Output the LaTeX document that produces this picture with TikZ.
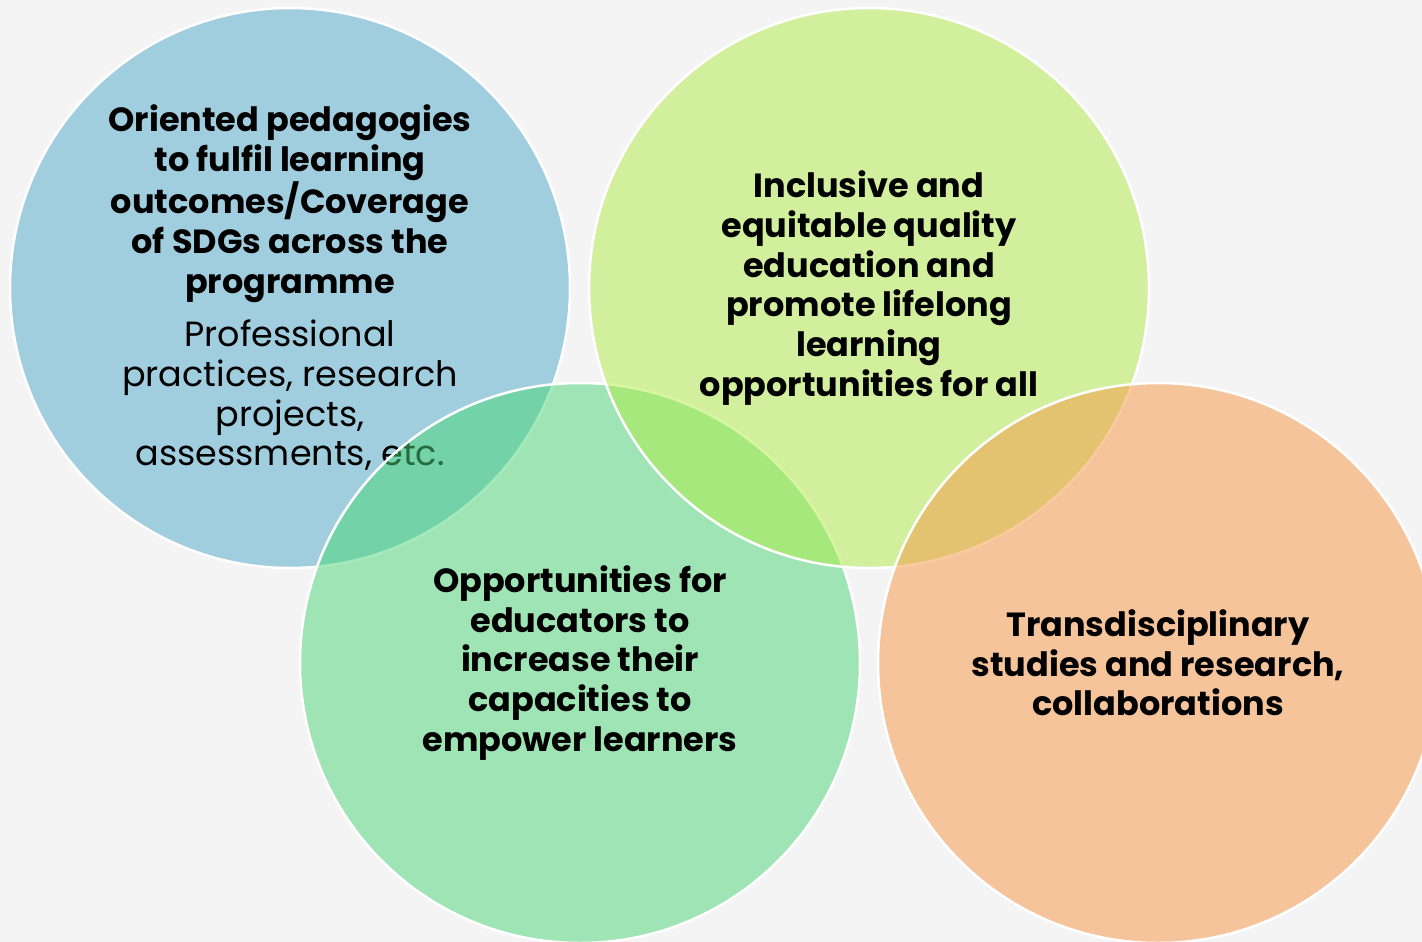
\documentclass[tikz,border=0pt]{standalone}
\usepackage{fontspec}
\setmainfont{Poppins}
\definecolor{bgC}{RGB}{244,244,244}
\definecolor{blueC}{RGB}{78,170,202}
\definecolor{greenC}{RGB}{74,214,118}
\definecolor{yellowC}{RGB}{176,236,72}
\definecolor{orangeC}{RGB}{246,150,68}
\newcommand{\regtext}[1]{{\fontsize{35}{39.7}\selectfont\mdseries #1}}
\tikzset{
  venn/.style={circle, minimum size=560pt, inner sep=0pt, draw=white, line width=2.5pt,
    fill opacity=0.5, text opacity=1, align=center,
    font=\fontsize{33.5}{39.7}\selectfont\bfseries},
}
\begin{document}
\begin{tikzpicture}[x=1pt,y=-1pt]
\useasboundingbox (0,0) rectangle (1422,942);
\clip (0,0) rectangle (1422,942);
\fill[bgC] (0,0) rectangle (1422,942);
\node[venn, fill=blueC] (c1) at (290,288) {Oriented pedagogies\\to fulfil learning\\outcomes/Coverage\\of SDGs across the\\programme\\[14pt]
  \regtext{Professional}\\\regtext{practices, research}\\\regtext{projects,}\\\regtext{assessments, etc.}};
\node[venn, fill=greenC] (c3) at (580,663) {Opportunities for\\educators to\\increase their\\capacities to\\empower learners};
\node[venn, fill=yellowC] (c2) at (869,288) {Inclusive and\\equitable quality\\education and\\promote lifelong\\learning\\opportunities for all};
\node[venn, fill=orangeC] (c4) at (1158,663) {Transdisciplinary\\studies and research,\\collaborations};
\end{tikzpicture}
\end{document}
